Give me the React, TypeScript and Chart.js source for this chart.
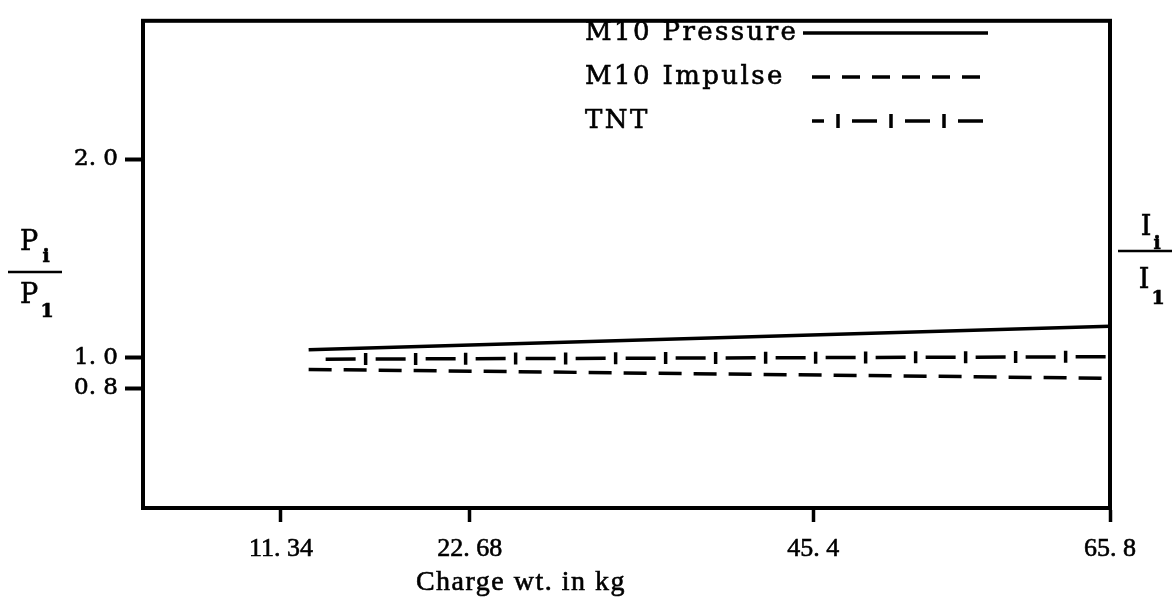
import React, { useEffect, useRef } from 'react';
import { Chart, registerables, LinearScale } from 'chart.js';

Chart.register(...registerables);

// ---------------- data ----------------
const xTickValues = [11.34, 22.68, 45.4, 65.8];
const xTickLabels = ['11. 34', '22. 68', '45. 4', '65. 8'];
const yTickValues = [0.8, 1.0, 2.0];
const yTickLabels = ['0. 8', '1. 0', '2. 0'];

const chargeKg = [13.0, 65.8];
const m10Pressure = [1.04, 1.158];
const m10Impulse = [0.923, 0.865];
const tntRatio = [0.99, 1.005];

const seriesLabels = ['M10 Pressure', 'M10 Impulse', 'TNT'];
const xAxisTitle = 'Charge wt. in kg';

// The original axes are not uniform: each tick value sits at a given fraction of the axis.
const xAxisAnchors: [number, number][] = [[11.34, 0.1427], [22.68, 0.338], [45.4, 0.693], [65.8, 1.0]];
const yAxisAnchors: [number, number][] = [[0.8, 0.246], [1.0, 0.3085], [2.0, 0.7157]];
const AXIS_ANCHORS: Record<string, [number, number][]> = { x: xAxisAnchors, y: yAxisAnchors };

// ---------------- piecewise scale ----------------
function valueToDecimal(a: [number, number][], v: number) {
  const n = a.length;
  let i = 0;
  if (v >= a[n - 1][0]) i = n - 2;
  else while (i < n - 2 && v > a[i + 1][0]) i++;
  const [v0, f0] = a[i];
  const [v1, f1] = a[i + 1];
  return f0 + ((v - v0) * (f1 - f0)) / (v1 - v0);
}
function decimalToValue(a: [number, number][], f: number) {
  const n = a.length;
  let i = 0;
  if (f >= a[n - 1][1]) i = n - 2;
  else while (i < n - 2 && f > a[i + 1][1]) i++;
  const [v0, f0] = a[i];
  const [v1, f1] = a[i + 1];
  return v0 + ((f - f0) * (v1 - v0)) / (f1 - f0);
}

class PiecewiseScale extends LinearScale {
  static id = 'piecewise';
  static defaults = (LinearScale as any).defaults;
  getPixelForValue(value: number) {
    if (value === null || value === undefined || isNaN(value)) return NaN;
    return this.getPixelForDecimal(valueToDecimal(AXIS_ANCHORS[this.id], value));
  }
  getValueForPixel(pixel: number) {
    return decimalToValue(AXIS_ANCHORS[this.id], this.getDecimalForPixel(pixel));
  }
}
Chart.register(PiecewiseScale as any);

// ---------------- styles ----------------
const INK = '#000';
const LINE_W = 3.5;
const TEXT_STROKE = 0.6;
const IMPULSE_DASH = [23, 12];
const TNT_DASH = 30;
const TNT_GAP = 20;
const TNT_OFFSET = 33;

function drawTicksAlong(
  ctx: CanvasRenderingContext2D,
  pts: { x: number; y: number }[],
  dash: number,
  gap: number,
  offset: number,
  half: number
) {
  const period = dash + gap;
  let total = 0;
  const segs: { x0: number; y0: number; x1: number; y1: number; s0: number; len: number }[] = [];
  for (let i = 0; i < pts.length - 1; i++) {
    const len = Math.hypot(pts[i + 1].x - pts[i].x, pts[i + 1].y - pts[i].y);
    segs.push({ x0: pts[i].x, y0: pts[i].y, x1: pts[i + 1].x, y1: pts[i + 1].y, s0: total, len });
    total += len;
  }
  ctx.save();
  ctx.strokeStyle = INK;
  ctx.lineWidth = LINE_W;
  ctx.setLineDash([]);
  let s = dash + gap / 2 - offset;
  while (s < gap / 2) s += period;
  for (; s <= total - gap / 2; s += period) {
    const seg = segs.find((g) => s >= g.s0 && s <= g.s0 + g.len) || segs[segs.length - 1];
    const t = (s - seg.s0) / seg.len;
    const x = seg.x0 + (seg.x1 - seg.x0) * t;
    const y = seg.y0 + (seg.y1 - seg.y0) * t;
    ctx.beginPath();
    ctx.moveTo(x, y - half);
    ctx.lineTo(x, y + half);
    ctx.stroke();
  }
  ctx.restore();
}

function text(ctx: CanvasRenderingContext2D, s: string, x: number, y: number) {
  ctx.fillText(s, x, y);
  ctx.lineWidth = TEXT_STROKE;
  ctx.strokeText(s, x, y);
}

const decorPlugin = {
  id: 'decor',
  afterDatasetsDraw(chart: any) {
    const meta = chart.getDatasetMeta(2);
    const pts = meta.data.map((p: any) => ({ x: p.x, y: p.y }));
    const ctx = chart.ctx as CanvasRenderingContext2D;
    const { left, top, right, bottom } = chart.chartArea;
    ctx.save();
    ctx.beginPath();
    ctx.rect(left, top, right - left, bottom - top);
    ctx.clip();
    drawTicksAlong(ctx, pts, TNT_DASH, TNT_GAP, TNT_OFFSET, 6);
    ctx.restore();
  },
  afterDraw(chart: any) {
    const ctx = chart.ctx as CanvasRenderingContext2D;
    const { left, top, right, bottom } = chart.chartArea;
    ctx.save();
    // frame
    ctx.strokeStyle = INK;
    ctx.fillStyle = INK;
    ctx.lineWidth = 4;
    ctx.setLineDash([]);
    ctx.strokeRect(left, top, right - left, bottom - top);

    // axis title
    ctx.font = '28px "Liberation Serif"';
    (ctx as any).letterSpacing = '1.5px';
    ctx.textAlign = 'center';
    ctx.textBaseline = 'middle';
    text(ctx, xAxisTitle, 521, 583);

    // legend
    const rowsY = [33, 77, 121];
    const textX = 585;
    const sx0 = 812;
    const sx1 = 988;
    ctx.font = '26px "DejaVu Serif"';
    (ctx as any).letterSpacing = '2.4px';
    ctx.textAlign = 'left';
    seriesLabels.forEach((lab, i) => text(ctx, lab, textX, rowsY[i]));
    (ctx as any).letterSpacing = '0px';
    ctx.lineWidth = LINE_W;
    // pressure sample
    ctx.beginPath();
    ctx.moveTo(803, rowsY[0]);
    ctx.lineTo(sx1, rowsY[0]);
    ctx.stroke();
    // impulse sample
    ctx.setLineDash([18, 12]);
    ctx.lineDashOffset = 0;
    ctx.beginPath();
    ctx.moveTo(sx0, rowsY[1]);
    ctx.lineTo(sx1, rowsY[1]);
    ctx.stroke();
    // tnt sample
    const legOff = 13;
    ctx.setLineDash([25, 28]);
    ctx.lineDashOffset = legOff;
    ctx.beginPath();
    ctx.moveTo(sx0, rowsY[2]);
    ctx.lineTo(sx1, rowsY[2]);
    ctx.stroke();
    ctx.setLineDash([]);
    ctx.lineDashOffset = 0;
    drawTicksAlong(ctx, [{ x: sx0, y: rowsY[2] }, { x: sx1, y: rowsY[2] }], 25, 28, legOff, 7);

    // left axis label  P_i / P_1
    ctx.textAlign = 'center';
    ctx.textBaseline = 'middle';
    ctx.font = '27px "DejaVu Serif"';
    text(ctx, 'P', 29, 243);
    text(ctx, 'P', 29, 296);
    ctx.font = 'bold 19px "DejaVu Serif"';
    text(ctx, 'i', 46, 257);
    text(ctx, '1', 47, 312);
    ctx.lineWidth = 2.5;
    ctx.beginPath();
    ctx.moveTo(8, 272);
    ctx.lineTo(62, 272);
    ctx.stroke();

    // right axis label  I_i / I_1
    ctx.font = '27px "DejaVu Serif"';
    text(ctx, 'I', 1146, 228);
    text(ctx, 'I', 1144, 281);
    ctx.font = 'bold 19px "DejaVu Serif"';
    text(ctx, 'i', 1157, 244);
    text(ctx, '1', 1158, 299);
    ctx.lineWidth = 2.5;
    ctx.beginPath();
    ctx.moveTo(1118, 251);
    ctx.lineTo(1172, 251);
    ctx.stroke();
    ctx.restore();
  },
};

export default function App() {
  const ref = useRef<HTMLCanvasElement>(null);
  useEffect(() => {
    document.body.style.margin = '0';
    const canvas = ref.current!;
    const mk = (ys: number[]) => chargeKg.map((x, i) => ({ x, y: ys[i] }));
    const chart = new Chart(canvas, {
      type: 'line',
      data: {
        datasets: [
          {
            label: seriesLabels[0],
            data: mk(m10Pressure),
            borderColor: INK,
            borderWidth: LINE_W,
            pointRadius: 0,
            fill: false,
          },
          {
            label: seriesLabels[1],
            data: mk(m10Impulse),
            borderColor: INK,
            borderWidth: LINE_W,
            borderDash: IMPULSE_DASH,
            pointRadius: 0,
            fill: false,
          },
          {
            label: seriesLabels[2],
            data: mk(tntRatio),
            borderColor: INK,
            borderWidth: LINE_W,
            borderDash: [TNT_DASH, TNT_GAP],
            borderDashOffset: TNT_OFFSET,
            pointRadius: 0,
            fill: false,
          },
        ],
      },
      options: {
        responsive: false,
        animation: false,
        events: [],
        layout: { padding: { left: 0, right: 65, top: 12, bottom: 0 } },
        plugins: { legend: { display: false }, tooltip: { enabled: false } },
        scales: {
          x: {
            type: 'piecewise' as any,
            afterBuildTicks: (s: any) => {
              s.ticks = xTickValues.map((v) => ({ value: v }));
            },
            afterFit: (s: any) => {
              s.height = 92;
            },
            grid: {
              display: true,
              drawOnChartArea: false,
              drawTicks: true,
              tickLength: 14,
              tickWidth: 3.5,
              tickColor: INK,
            },
            border: { display: true, width: 4, color: INK },
            ticks: {
              autoSkip: false,
              maxRotation: 0,
              padding: 12,
              color: INK,
              textStrokeColor: INK,
              textStrokeWidth: TEXT_STROKE,
              font: { family: '"Liberation Serif"', size: 26 },
              callback: (_v: any, i: number) => xTickLabels[i],
            },
            title: { display: false },
          },
          y: {
            type: 'piecewise' as any,
            afterBuildTicks: (s: any) => {
              s.ticks = yTickValues.map((v) => ({ value: v }));
            },
            afterFit: (s: any) => {
              s.width = 143;
            },
            grid: {
              display: true,
              drawOnChartArea: false,
              drawTicks: true,
              tickLength: 18,
              tickWidth: 4,
              tickColor: INK,
            },
            border: { display: true, width: 4, color: INK },
            ticks: {
              autoSkip: false,
              padding: 7,
              color: INK,
              textStrokeColor: INK,
              textStrokeWidth: TEXT_STROKE,
              font: { family: '"DejaVu Serif"', size: 23 },
              callback: (_v: any, i: number) => yTickLabels[i],
            },
          },
        },
      } as any,
      plugins: [decorPlugin],
    });
    return () => chart.destroy();
  }, []);
  return (
    <div style={{ width: 1175, height: 600, background: '#fff' }}>
      <canvas ref={ref} width={1175} height={600} />
    </div>
  );
}
